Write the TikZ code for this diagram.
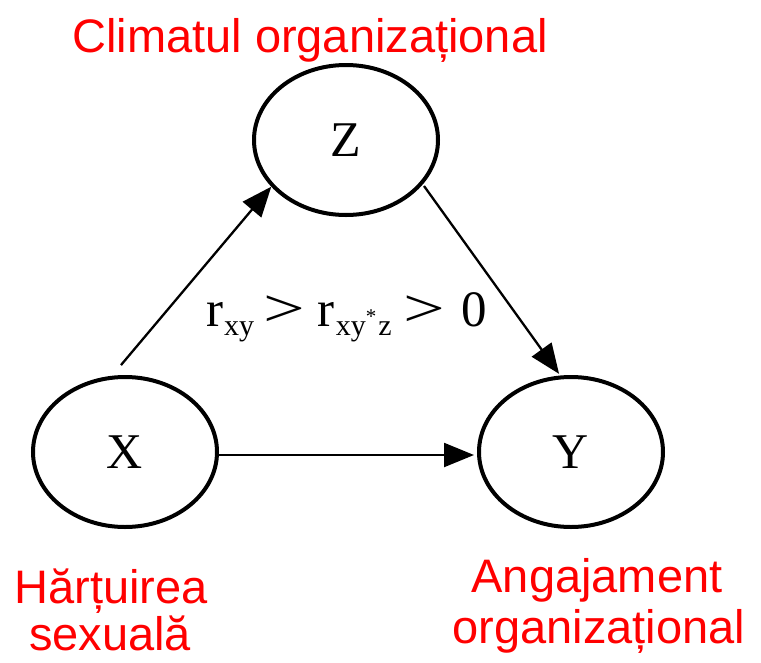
\documentclass[tikz,border=0pt]{standalone}
\usepackage{fontspec}
\usepackage{graphicx}
\setmainfont{Liberation Serif}
\newfontfamily\labfont{Liberation Sans}
\usetikzlibrary{shapes.geometric,arrows.meta}
\definecolor{labred}{RGB}{255,0,0}
\newcommand\rsubs[1]{\raisebox{-9pt}{\fontsize{30}{30}\selectfont #1}}
\newcommand\bigger{\scalebox{1.45}[1.05]{>}}
\tikzset{
  var/.style={ellipse, draw, line width=4pt, minimum width=184pt, minimum height=150pt, inner sep=0pt, font=\fontsize{50}{50}\selectfont},
  lab/.style={text=labred, font=\labfont\fontsize{47}{47}\selectfont, inner sep=0pt, align=center},
  conn/.style={line width=2.3pt, -{Triangle[length=30pt,width=24pt]}}
}
\begin{document}
\begin{tikzpicture}[x=1pt,y=-1pt]
\useasboundingbox (0,0) rectangle (761,662);
\node[var] (Z) at (346,140) {Z};
\node[var] (X) at (125,452) {X};
\node[var] (Y) at (571,452) {Y};
\draw[conn] ([yshift=10pt]X.93) -- (Z.212);
\draw[conn, shorten <=2pt, shorten >=2pt] (Z.330) -- (Y.98);
\draw[conn, shorten >=3pt] ([yshift=-3pt]X.east) -- ([yshift=-3pt]Y.west);
\node[anchor=base west, inner sep=0pt, font=\fontsize{51}{51}\selectfont] (F) at (206,326)
  {r\kern1pt\rsubs{xy}\kern9pt\bigger\kern13pt r\kern1pt\rsubs{xy\raisebox{12pt}{\fontsize{21}{21}\selectfont *}\kern2pt z}\kern12pt\bigger\kern16pt 0};
\node[lab, anchor=base] (tz) at (310,52) {Climatul organizațional};
\node[lab, anchor=base] (tx1) at (111,603) {Hărțuirea};
\node[lab, anchor=base] (tx2) at (110,650) {sexuală};
\node[lab, anchor=base] (ty1) at (597,592) {Angajament};
\node[lab, anchor=base] (ty2) at (599,643) {organizațional};
\end{tikzpicture}
\end{document}
